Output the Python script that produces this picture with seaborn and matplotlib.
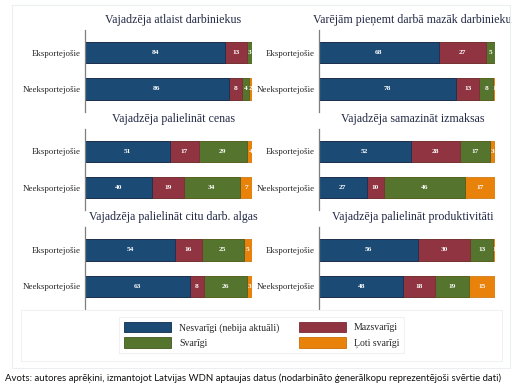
import pandas as pd
import matplotlib
matplotlib.use('Agg')
import matplotlib.pyplot as plt
from matplotlib.patches import Patch, Rectangle
import seaborn as sns

# Data (percent of firms)
grupas = ['Eksportejošie', 'Neeksportejošie']
kategorijas = ['Nesvarīgi (nebija aktuāli)', 'Mazsvarīgi', 'Svarīgi', 'Ļoti svarīgi']
krasas = ['#1b4a75', '#8f3440', '#55742e', '#e8820b']
malas = ['#0e2c4c', '#7a2a34', '#41591f', '#c86e05']

virsraksti = ['Vajadzēja atlaist darbiniekus',
              'Varējām pieņemt darbā mazāk darbinieku',
              'Vajadzēja palielināt cenas',
              'Vajadzēja samazināt izmaksas',
              'Vajadzēja palielināt citu darb. algas',
              'Vajadzēja palielināt produktivitāti']

atlaist = [[84, 13, 3, 0], [86, 8, 4, 2]]
mazak_darbinieku = [[68, 27, 5, 0], [78, 13, 8, 1]]
cenas = [[51, 17, 29, 4], [40, 19, 34, 7]]
izmaksas = [[52, 28, 17, 3], [27, 10, 46, 17]]
algas = [[54, 16, 25, 5], [63, 8, 26, 3]]
produktivitate = [[56, 30, 13, 1], [48, 18, 19, 15]]
dati = [atlaist, mazak_darbinieku, cenas, izmaksas, algas, produktivitate]

avots = ('Avots: autores aprēķini, izmantojot Latvijas WDN aptaujas datus '
         '(nodarbināto ģenerālkopu reprezentējoši svērtie dati)')

sns.set_style('white')
plt.rcParams['font.family'] = ['Liberation Serif', 'DejaVu Serif']

W, H = 526, 388
fig = plt.figure(figsize=(W / 100, H / 100), dpi=100)

def px_axes(x0, x1, ytop, ybot):
    return fig.add_axes([x0 / W, 1 - ybot / H, (x1 - x0) / W, (ybot - ytop) / H])

# light frames
fig.patches.append(Rectangle((12 / W, 1 - 368 / H), 498 / W, 363 / H, transform=fig.transFigure,
                             fill=False, edgecolor='#eceef1', lw=0.8))
fig.patches.append(Rectangle((21 / W, 1 - 361 / H), 481 / W, 51 / H, transform=fig.transFigure,
                             fill=False, edgecolor='#eff1f3', lw=0.8))

kolonnas = [(85, 252), (319, 495)]
centri = [52.5, 151.2, 249.8]
solis = 36.5

for i, (virsraksts, vertibas) in enumerate(zip(virsraksti, dati)):
    rinda, kol = i // 2, i % 2
    x0, x1 = kolonnas[kol]
    c = centri[rinda]
    ax = px_axes(x0, x1, c - 22.5, c + solis + 22.5)

    df = pd.DataFrame(vertibas, columns=kategorijas)
    df['grupa'] = grupas
    kum = df[kategorijas].cumsum(axis=1)

    # layered bars: widest (cumulative) first
    for j in range(len(kategorijas) - 1, -1, -1):
        sl = pd.DataFrame({'grupa': grupas, 'x': kum[kategorijas[j]]})
        sns.barplot(data=sl, x='x', y='grupa', color=krasas[j], orient='h', width=0.59,
                    edgecolor=malas[j], linewidth=0.5, saturation=1, ax=ax)

    for g in range(len(grupas)):
        for j, kat in enumerate(kategorijas):
            v = df.loc[g, kat]
            if v <= 0:
                continue
            ax.text(kum.loc[g, kat] - v / 2, g, str(v), ha='center', va='center',
                    color='white', fontsize=5.3, fontweight='bold')

    ax.set_xlim(0, 100)
    ax.set_ylim(1.62, -0.62)
    ax.set_xlabel('')
    ax.set_ylabel('')
    ax.set_xticks([])
    ax.tick_params(axis='y', length=0, labelsize=6.4, pad=3)
    for s in ['top', 'right', 'bottom']:
        ax.spines[s].set_visible(False)
    ax.spines['left'].set_color('#7f7f7f')
    ax.spines['left'].set_linewidth(0.9)
    ax.set_facecolor('none')
    ax.text(0.53, 1 + 10 / 81.5, virsraksts, transform=ax.transAxes, ha='center', va='center',
            fontsize=8.6, color='#222a45')

roki = [Patch(facecolor=krasas[k], edgecolor=malas[k], linewidth=0.6) for k in [0, 2, 1, 3]]
nos = [kategorijas[k] for k in [0, 2, 1, 3]]
leg = fig.legend(roki, nos, ncol=2, loc='center', bbox_to_anchor=(261.5 / W, 1 - 335 / H),
                 fontsize=7, handlelength=4.9, handleheight=1.25, handletextpad=0.8,
                 columnspacing=2.0, labelspacing=0.5, borderpad=0.5,
                 frameon=True, fancybox=False, edgecolor='#eceef0')
leg.get_frame().set_linewidth(0.8)

fig.text(253 / W, 1 - 378 / H, avots, ha='center', va='center', fontsize=6.9,
         family=['Lato', 'DejaVu Sans'], color='#111111')

fig.savefig('out.png', dpi=100, facecolor='white')
